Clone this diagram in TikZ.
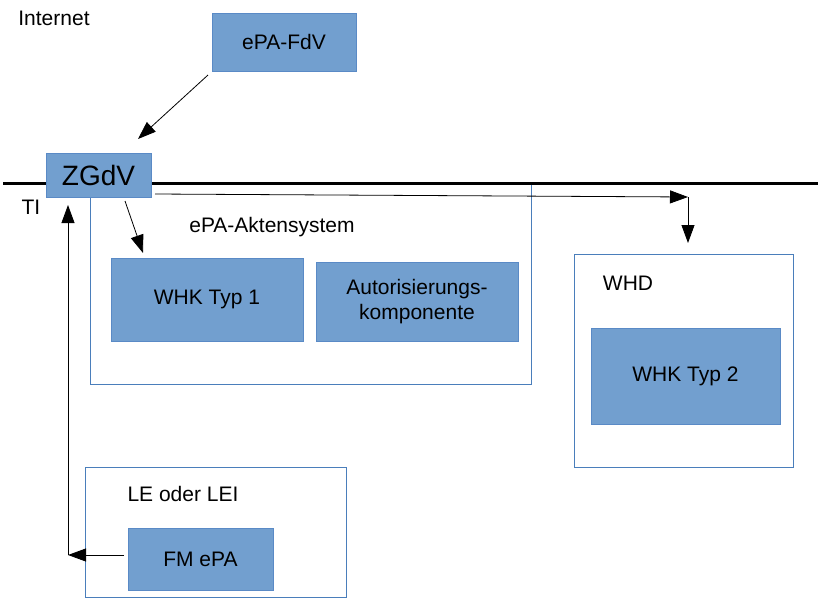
\documentclass[tikz,border=0pt]{standalone}
\usepackage{fontspec}
\setmainfont{Liberation Sans}
\usetikzlibrary{arrows.meta,calc}
\definecolor{boxfill}{HTML}{729FCF}
\definecolor{boxline}{HTML}{5A8AC6}
\definecolor{frameline}{HTML}{4A7EBB}
\tikzset{
  every node/.style={inner sep=0pt, outer sep=0pt, font=\fontsize{21}{24.5}\selectfont},
  bluebox/.style={draw=boxline, fill=boxfill, line width=1pt, align=center},
  frame/.style={draw=frameline, fill=white, line width=1pt},
  lbl/.style={text=black},
  arr/.style={draw=black, line width=0.8pt, -{Triangle[length=18pt,width=13pt]}},
  plain/.style={draw=black, line width=0.8pt}
}
\begin{document}
\begin{tikzpicture}[x=1pt,y=-1pt]
\useasboundingbox (0,0) rectangle (836,598);
% frames
\node[frame, minimum width=441pt, minimum height=201pt] (akten) at (310.5,283.5) {};
\node[frame, minimum width=219pt, minimum height=213pt] (whd) at (683.5,360.5) {};
\node[frame, minimum width=261pt, minimum height=130pt] (le) at (215.5,532) {};
% TI boundary line
\coordinate (tileft) at (3,183);
\coordinate (tiright) at (818,183);
\draw[line width=3pt] (tileft) -- (tiright);
% labels
\node[lbl] (internet) at (54,18) {Internet};
\node[lbl] (ti) at (31,207) {TI};
\node[lbl] (aktenlbl) at (272,227) {ePA-Aktensystem};
\node[lbl] (whdlbl) at (628,283) {WHD};
\node[lbl] (lelbl) at (183,494) {LE oder LEI};
% boxes
\node[bluebox, minimum width=144pt, minimum height=58pt] (fdv) at (284,42) {ePA-FdV};
\node[bluebox, minimum width=105pt, minimum height=44pt, font=\fontsize{28}{32}\selectfont] (zgdv) at (98.5,175) {ZGdV};
\node[bluebox, minimum width=192pt, minimum height=83pt] (whk1) at (207,299.5) {WHK Typ 1};
\node[bluebox, minimum width=202pt, minimum height=79pt] (auth) at (417,301.5) {Autorisierungs-\\komponente};
\node[bluebox, minimum width=189pt, minimum height=96pt] (whk2) at (685.5,376) {WHK Typ 2};
\node[bluebox, minimum width=145pt, minimum height=62pt] (fm) at (200.5,559) {FM ePA};
% connectors
\draw[arr] ($(fdv.south west)+(-4,4)$) -- ($(zgdv.north)+(39.5,-14)$);
\draw[arr] ($(zgdv.south)+(26.5,4)$) -- ($(whk1.north west)+(32,-5)$);
\coordinate (c1) at ($(whd.north)+(4.5,-57)$);
\draw[arr] ($(zgdv.south east)+(4,-3)$) -- (c1);
\draw[arr] (c1) -- ($(whd.north)+(4.5,-11)$);
\coordinate (c2) at ($(fm.west)+(-60,-4)$);
\draw[arr] ($(fm.west)+(-4,-4)$) -- (c2);
\draw[arr] (c2) -- ($(zgdv.south west)+(22,8)$);
\end{tikzpicture}
\end{document}
